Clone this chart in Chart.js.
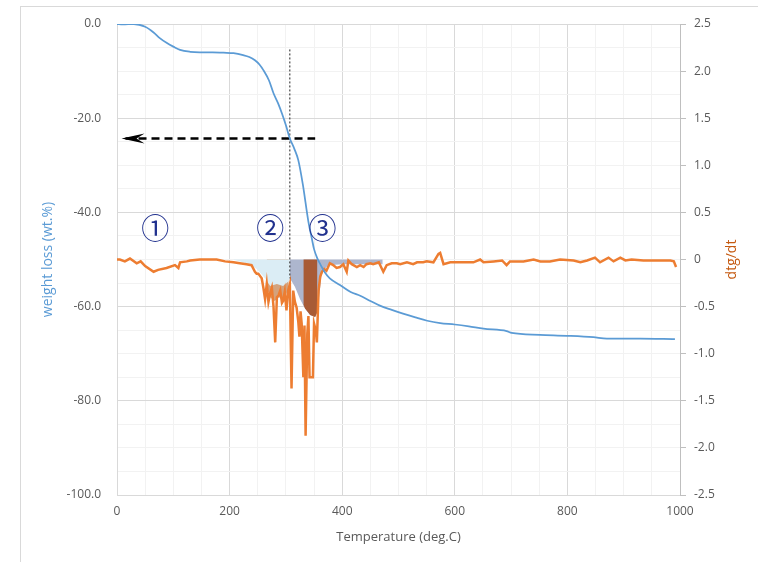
<!DOCTYPE html>
<html>
<head>
<meta charset="utf-8">
<script src="https://cdn.jsdelivr.net/npm/chart.js@4.4.1/dist/chart.umd.min.js"></script>
<style>
  html, body { margin: 0; padding: 0; background: #fff; }
  #wrap { position: relative; width: 758px; height: 562px; overflow: hidden; }
  #frame { position: absolute; left: 20px; top: 6px; width: 800px; height: 700px; border: 1px solid #d9d9d9; }
  canvas { position: absolute; left: 0; top: 0; }
</style>
</head>
<body>
<div id="wrap">
  <div id="frame"></div>
  <canvas id="tga" width="758" height="562"></canvas>
</div>
<script>
// Weight loss curve (left axis)
const weightTemp = [0, 10, 30, 50, 65, 76, 88, 100, 112, 130, 147, 170, 189, 207, 224, 235, 245, 253, 260, 270,
    278, 286, 293, 300, 307, 315, 322, 330, 340, 346, 350, 356, 361, 369, 378, 396, 415, 432, 450, 467,
    488, 508, 530, 551, 574, 600, 625, 651, 692, 701, 751, 799, 846, 870, 929, 991];
const weightLoss = [0, -0.1, 0, -0.6, -1.8, -3.0, -4.0, -4.8, -5.5, -5.9, -6.0, -6.0, -6.1, -6.2, -6.6, -7.0, -7.7, -8.6, -9.8, -12.0,
    -14.7, -16.8, -19.0, -21.5, -24.3, -26.5, -28.9, -34.0, -42.0, -45.5, -47.8, -49.8, -51.0, -52.7, -54.0, -55.4, -56.9, -57.7, -58.8, -59.8,
    -60.7, -61.5, -62.3, -63.0, -63.5, -63.8, -64.2, -64.7, -65.2, -65.6, -66.0, -66.2, -66.5, -66.8, -66.8, -66.9];

// dtg/dt curve (right axis)
const dtgTemp = [0, 5, 14, 23, 35, 42, 50, 65, 73, 88, 103, 109, 112, 124, 130, 147, 177, 192, 207, 218,
    230, 239, 245, 248, 251, 257, 260, 263, 266, 269, 272, 275, 278, 281, 284, 287, 290, 293, 295, 298,
    301, 304, 307, 310, 313, 316, 319, 322, 324, 326, 328, 331, 333, 335, 338, 340, 342, 345, 348, 350,
    353, 355, 358, 361, 364, 368, 372, 378, 384, 390, 396, 402, 408, 411, 417, 426, 432, 438, 443, 450,
    455, 465, 473, 479, 488, 497, 503, 515, 526, 533, 544, 550, 562, 571, 574, 580, 592, 609, 633, 645,
    651, 669, 684, 692, 698, 722, 740, 752, 769, 787, 811, 823, 835, 849, 858, 873, 882, 894, 903, 914,
    935, 953, 983, 989, 993];
const dtgValue = [0, 0, -0.02, 0.01, -0.04, -0.02, -0.07, -0.13, -0.11, -0.09, -0.06, -0.09, -0.03, -0.02, -0.01, 0, 0, -0.02, -0.03, -0.04,
    -0.05, -0.06, -0.13, -0.15, -0.15, -0.20, -0.30, -0.42, -0.26, -0.45, -0.36, -0.30, -0.50, -0.88, -0.40, -0.38, -0.33, -0.46, -0.44, -0.34,
    -0.54, -0.33, -0.26, -1.37, -0.33, -0.45, -0.51, -0.66, -0.82, -0.55, -0.68, -1.25, -0.70, -1.87, -0.79, -0.60, -1.25, -1.25, -1.25, -0.68,
    -0.75, -0.88, -0.33, -0.18, -0.13, -0.10, -0.12, -0.04, -0.06, -0.09, -0.08, -0.05, -0.13, -0.01, -0.05, -0.08, -0.06, -0.08, -0.05, -0.04,
    -0.05, -0.03, -0.13, -0.06, -0.04, -0.04, -0.05, -0.03, -0.05, -0.03, -0.03, -0.02, -0.03, 0.06, 0.07, -0.05, -0.03, -0.03, -0.03, 0,
    -0.03, -0.02, -0.01, -0.06, -0.02, -0.02, 0, -0.02, -0.02, 0, -0.01, -0.03, -0.01, 0.02, -0.03, 0.02, -0.02, 0.02, -0.01, 0,
    -0.01, -0.01, -0.01, -0.02, -0.08];

// Shaded regions (dtg axis)
const region2Temp = [206, 236, 248, 263, 272, 284, 295, 307];
const region2Value = [0, -0.05, -0.10, -0.20, -0.28, -0.26, -0.28, -0.22];
const region2bTemp = [266, 272, 280, 288, 296, 305];
const region2bValue = [-0.30, -0.40, -0.44, -0.40, -0.44, -0.30];
const region3Temp = [307, 316, 325, 334, 343, 352, 357, 361, 363, 369, 375, 400, 440, 472];
const region3Value = [-0.20, -0.29, -0.42, -0.52, -0.59, -0.61, -0.51, -0.29, -0.17, -0.10, -0.06, -0.05, -0.05, -0.05];
const peakTemp = [331, 334, 343, 352, 356];
const peakValue = [-0.48, -0.52, -0.59, -0.61, -0.56];

// Annotations
const markerTemp = [307, 307];
const markerWeight = [-5.4, -54];
const arrowTemp = [8, 352];
const arrowWeight = [-24.3, -24.3];
const stageLabels = ['①', '②', '③'];
const stageTemp = [68, 272, 365];
const stageWeight = [-43.4, -43.4, -43.4];

const pts = (xs, ys) => xs.map((x, i) => ({ x: x, y: ys[i] }));

const GRID_MAJOR = '#d9d9d9';
const GRID_MINOR = '#f2f2f2';
const TICK_COLOR = '#595959';
const FONT = "'Open Sans', sans-serif";

// Arrowhead, stage labels and the right axis title (reads bottom to top)
const annotations = {
    id: 'annotations',
    afterDatasetsDraw(chart) {
        const { ctx, scales, chartArea } = chart;
        const x = scales.x, y = scales.y;

        // arrow head at the first arrow point
        const tx = x.getPixelForValue(arrowTemp[0]);
        const ty = y.getPixelForValue(arrowWeight[0]);
        ctx.save();
        ctx.fillStyle = '#000';
        ctx.beginPath();
        ctx.moveTo(tx, ty);
        ctx.lineTo(tx + 23, ty - 5);
        ctx.lineTo(tx + 15, ty);
        ctx.lineTo(tx + 23, ty + 5);
        ctx.closePath();
        ctx.fill();

        // circled stage numbers
        ctx.fillStyle = '#21318e';
        ctx.font = "28px 'Noto Sans CJK JP', sans-serif";
        ctx.textAlign = 'center';
        ctx.textBaseline = 'middle';
        stageLabels.forEach((label, i) => {
            ctx.fillText(label, x.getPixelForValue(stageTemp[i]), y.getPixelForValue(stageWeight[i]));
        });

        // right axis title
        ctx.translate(scales.y2.right - 26, (chartArea.top + chartArea.bottom) / 2);
        ctx.rotate(-Math.PI / 2);
        ctx.fillStyle = '#c55a11';
        ctx.font = '14px ' + FONT;
        ctx.fillText('dtg/dt', 0, 0);
        ctx.restore();
    }
};

new Chart(document.getElementById('tga'), {
    type: 'line',
    data: {
        datasets: [
            {
                label: 'weight loss',
                data: pts(weightTemp, weightLoss),
                yAxisID: 'y',
                borderColor: '#5b9bd5',
                borderWidth: 1.75,
                cubicInterpolationMode: 'monotone',
                pointRadius: 0,
                order: 0
            },
            {
                label: 'marker',
                data: pts(markerTemp, markerWeight),
                yAxisID: 'y',
                borderColor: '#222',
                borderWidth: 1,
                borderDash: [2, 2],
                pointRadius: 0,
                order: 1
            },
            {
                label: 'arrow',
                data: pts(arrowTemp, arrowWeight),
                yAxisID: 'y',
                borderColor: '#000',
                borderWidth: 2.5,
                borderDash: [8, 5],
                borderDashOffset: -4,
                pointRadius: 0,
                order: 1
            },
            {
                label: 'dtg/dt',
                data: pts(dtgTemp, dtgValue),
                yAxisID: 'y2',
                borderColor: '#ed7d31',
                borderWidth: 2.5,
                pointRadius: 0,
                tension: 0,
                order: 2
            },
            {
                label: 'peak',
                data: pts(peakTemp, peakValue),
                yAxisID: 'y2',
                borderWidth: 0,
                backgroundColor: '#a85b36',
                fill: 'origin',
                pointRadius: 0,
                order: 3
            },
            {
                label: 'region 3',
                data: pts(region3Temp, region3Value),
                yAxisID: 'y2',
                borderWidth: 0,
                backgroundColor: '#adb6ce',
                fill: 'origin',
                pointRadius: 0,
                order: 4
            },
            {
                label: 'region 2',
                data: pts(region2Temp, region2Value),
                yAxisID: 'y2',
                borderWidth: 0,
                backgroundColor: '#dbedf5',
                fill: 'origin',
                pointRadius: 0,
                order: 5
            },
            {
                label: 'region 2b',
                data: pts(region2bTemp, region2bValue),
                yAxisID: 'y2',
                borderWidth: 0,
                backgroundColor: '#d4a27c',
                fill: 'origin',
                pointRadius: 0,
                order: 6
            }
        ]
    },
    options: {
        responsive: false,
        animation: false,
        events: [],
        layout: { padding: { left: 20, right: 0, top: 24, bottom: 0 } },
        plugins: {
            legend: { display: false },
            tooltip: { enabled: false }
        },
        scales: {
            x: {
                type: 'linear',
                min: 0,
                max: 1000,
                afterFit: s => { s.height = 67; },
                border: { color: GRID_MAJOR },
                grid: {
                    drawTicks: false,
                    color: c => (c.tick && c.tick.value % 200 === 0) ? GRID_MAJOR : GRID_MINOR
                },
                ticks: {
                    stepSize: 50,
                    autoSkip: false,
                    maxRotation: 0,
                    padding: 9,
                    color: TICK_COLOR,
                    font: { family: FONT, size: 12 },
                    callback: v => v % 200 === 0 ? String(v) : ''
                },
                title: {
                    display: true,
                    text: 'Temperature (deg.C)',
                    color: TICK_COLOR,
                    font: { family: FONT, size: 13 },
                    padding: { top: 0, bottom: 17 }
                }
            },
            y: {
                type: 'linear',
                position: 'left',
                min: -100,
                max: 0,
                afterFit: s => { s.width = 97; },
                border: { color: GRID_MAJOR },
                grid: {
                    drawTicks: false,
                    color: c => (c.tick && c.tick.value % 20 === 0) ? GRID_MAJOR : GRID_MINOR
                },
                ticks: {
                    stepSize: 5,
                    autoSkip: false,
                    padding: 16,
                    color: TICK_COLOR,
                    font: { family: FONT, size: 12 },
                    callback: v => v % 20 === 0 ? v.toFixed(1) : ''
                },
                title: {
                    display: true,
                    text: 'weight loss (wt.%)',
                    color: '#5b9bd5',
                    font: { family: FONT, size: 14 },
                    padding: { top: 20, bottom: 0 }
                }
            },
            y2: {
                type: 'linear',
                position: 'right',
                min: -2.5,
                max: 2.5,
                afterFit: s => { s.width = 78; },
                border: { color: '#bfbfbf' },
                grid: {
                    drawOnChartArea: false,
                    drawTicks: true,
                    tickLength: 6,
                    color: '#bfbfbf'
                },
                ticks: {
                    stepSize: 0.5,
                    padding: 8,
                    color: TICK_COLOR,
                    font: { family: FONT, size: 12 }
                },
                title: { display: false }
            }
        }
    },
    plugins: [annotations]
});
</script>
</body>
</html>
